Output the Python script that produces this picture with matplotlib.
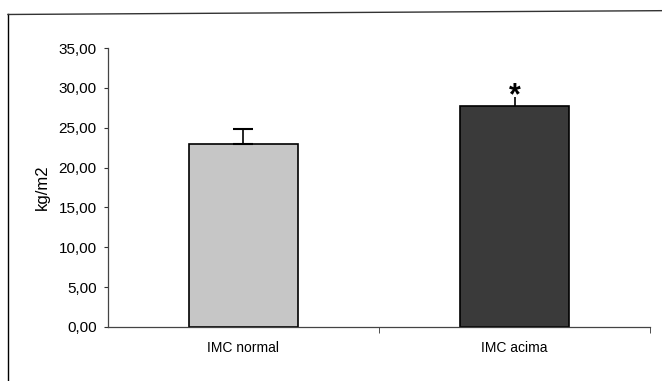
import matplotlib.pyplot as plt
import numpy as np
from matplotlib.lines import Line2D

plt.rcParams['font.family'] = ['Liberation Sans', 'DejaVu Sans']

# Data
categories = ["IMC normal", "IMC acima"]
means = [22.9, 27.7]
sds = [1.9, 1.1]
bar_colors = ["#c6c6c6", "#3a3a3a"]
yticks = [0, 5, 10, 15, 20, 25, 30, 35]

fig = plt.figure(figsize=(6.62, 3.81), dpi=100)
ax = fig.add_axes([0.163, 0.142, 0.819, 0.732])

x = np.arange(len(categories))
ax.bar(x, means, width=0.4, color=bar_colors, edgecolor="black", linewidth=1.2, zorder=2)
# first bar has a capped error bar, second one is topped by the asterisk
ax.errorbar(x[:1], means[:1], yerr=[[0], sds[:1]], fmt="none", ecolor="black",
            elinewidth=1.2, capsize=7, capthick=1.5, zorder=3)
ax.errorbar(x[1:], means[1:], yerr=[[0], sds[1:]], fmt="none", ecolor="black",
            elinewidth=1.2, capsize=0, zorder=3)

ax.text(x[1], means[1] + sds[1] + 0.2, "*", ha="center", va="center",
        fontsize=22, fontweight="bold", zorder=4)

ax.set_xlim(-0.5, 1.5)
ax.set_ylim(0, 35)
ax.set_yticks(yticks)
ax.set_yticklabels([f"{v:.2f}".replace(".", ",") for v in yticks], fontsize=11)
ax.set_xticks(x)
ax.set_xticklabels(categories, fontsize=10)
ax.tick_params(axis="x", length=0, pad=10)
ax.set_xticks([0.5, 1.5], minor=True)
ax.tick_params(axis="x", which="minor", length=4, color="#333333")
ax.tick_params(axis="y", length=3, color="#333333", pad=5)
ax.set_ylabel("kg/m2", fontsize=12, labelpad=6)

for side in ["top", "right"]:
    ax.spines[side].set_visible(False)
for side in ["left", "bottom"]:
    ax.spines[side].set_color("#444444")
    ax.spines[side].set_linewidth(0.9)

# outer chart frame (left and top edges)
fig.add_artist(Line2D([0.012, 0.012], [0.0, 0.962], transform=fig.transFigure,
                      color="black", linewidth=1.0))
fig.add_artist(Line2D([0.012, 1.0], [0.962, 0.972], transform=fig.transFigure,
                      color="#333333", linewidth=1.0))

fig.savefig("out.png", dpi=100)
